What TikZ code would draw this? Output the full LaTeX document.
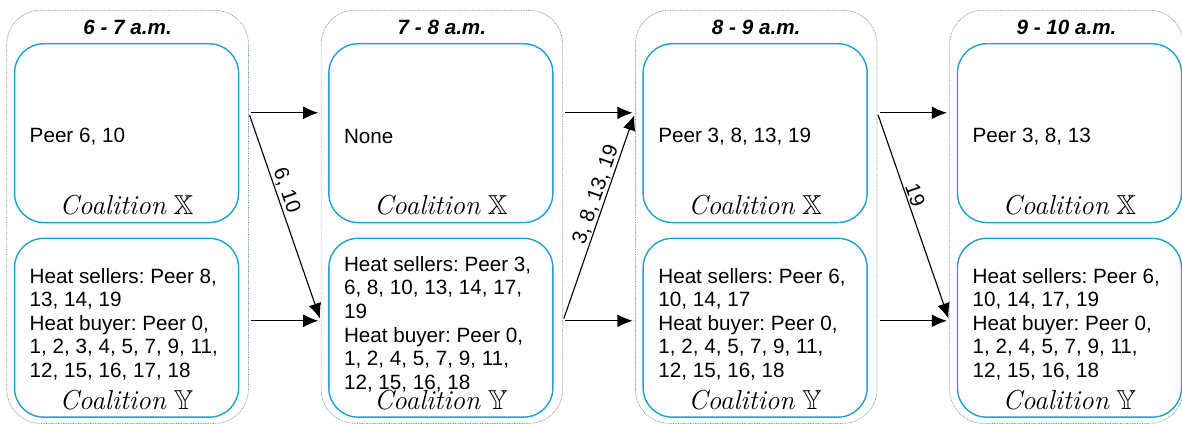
\documentclass[tikz,border=0pt]{standalone}
\usepackage{amssymb}
\usepackage[no-math]{fontspec}
\newfontfamily\arialfont{Liberation Sans}
\usetikzlibrary{positioning,arrows.meta}
\definecolor{boxblue}{RGB}{30,160,210}
\definecolor{framegray}{RGB}{120,150,170}
\frenchspacing

% coalition caption under each box
\newcommand{\coalname}[1]{\fontsize{19.5}{21}\selectfont{\rmfamily\itshape Coalition}~$\mathbb{#1}$}

\begin{document}
\begin{tikzpicture}[
  node distance=18mm, font=\arialfont\fontsize{14.7}{16.8}\selectfont,
  >={Latex[length=3.8mm,width=3.2mm]},
  period/.style={draw=framegray, line width=0.5pt, dash pattern=on 0.6pt off 0.6pt, rounded corners=8.5mm, minimum width=60.4mm, minimum height=103.3mm, inner sep=0pt},
  coal/.style={draw=boxblue, line width=1pt, rounded corners=7.3mm, minimum width=56mm, minimum height=44.7mm, anchor=north west, inner sep=0pt},
  hour/.style={font=\arialfont\fontsize{14.7}{16.8}\selectfont\bfseries\itshape},
  members/.style={anchor=west, align=left, inner sep=0pt},
  cname/.style={anchor=base, inner sep=0pt},
  flow/.style={->, line width=0.8pt, shorten <=0.6mm, shorten >=0.6mm},
  lbl/.style={sloped, above, inner sep=0.8pt},
]
\useasboundingbox (0,0) rectangle (295.5mm,-106mm);

% one frame per hour
\node[period] (p1) at (31.9mm,-54.2mm) {};
\node[period, right=of p1] (p2) {};
\node[period, right=of p2] (p3) {};
\node[period, right=of p3, minimum width=58.4mm] (p4) {};

\node[hour] (t1) at ([yshift=-4.3mm]p1.north) {6 - 7 a.m.};
\node[hour] (t2) at ([yshift=-4.3mm]p2.north) {7 - 8 a.m.};
\node[hour] (t3) at ([yshift=-4.3mm]p3.north) {8 - 9 a.m.};
\node[hour] (t4) at ([yshift=-4.3mm]p4.north) {9 - 10 a.m.};

% 6 - 7
\node[coal] (x1) at ([xshift=1.85mm,yshift=-8.3mm]p1.north west) {};
\node[coal, below=3.6mm of x1] (y1) {};
\node[members] (x1m) at ([xshift=3.9mm,yshift=-0.8mm]x1.west) {Peer 6, 10};
\node[members] (y1m) at ([xshift=3.9mm,yshift=0.9mm]y1.west) {Heat sellers: Peer 8,\\13, 14, 19\\Heat buyer: Peer 0,\\1, 2, 3, 4, 5, 7, 9, 11,\\12, 15, 16, 17, 18};
\node[cname] (x1c) at ([yshift=2.25mm]x1.south) {\coalname{X}};
\node[cname] (y1c) at ([yshift=2.1mm]y1.south) {\coalname{Y}};

% 7 - 8
\node[coal] (x2) at ([xshift=1.85mm,yshift=-8.3mm]p2.north west) {};
\node[coal, below=3.6mm of x2] (y2) {};
\node[members] (x2m) at ([xshift=3.9mm,yshift=-0.8mm]x2.west) {None};
\node[members] (y2m) at ([xshift=3.9mm,yshift=0.9mm]y2.west) {Heat sellers: Peer 3,\\6, 8, 10, 13, 14, 17,\\19\\Heat buyer: Peer 0,\\1, 2, 4, 5, 7, 9, 11,\\12, 15, 16, 18};
\node[cname] (x2c) at ([yshift=2.25mm]x2.south) {\coalname{X}};
\node[cname] (y2c) at ([yshift=2.1mm]y2.south) {\coalname{Y}};

% 8 - 9
\node[coal] (x3) at ([xshift=1.85mm,yshift=-8.3mm]p3.north west) {};
\node[coal, below=3.6mm of x3] (y3) {};
\node[members] (x3m) at ([xshift=3.9mm,yshift=-0.8mm]x3.west) {Peer 3, 8, 13, 19};
\node[members] (y3m) at ([xshift=3.9mm,yshift=0.9mm]y3.west) {Heat sellers: Peer 6,\\10, 14, 17\\Heat buyer: Peer 0,\\1, 2, 4, 5, 7, 9, 11,\\12, 15, 16, 18};
\node[cname] (x3c) at ([yshift=2.25mm]x3.south) {\coalname{X}};
\node[cname] (y3c) at ([yshift=2.1mm]y3.south) {\coalname{Y}};

% 9 - 10
\node[coal] (x4) at ([xshift=1.85mm,yshift=-8.3mm]p4.north west) {};
\node[coal, below=3.6mm of x4] (y4) {};
\node[members] (x4m) at ([xshift=3.9mm,yshift=-0.8mm]x4.west) {Peer 3, 8, 13};
\node[members] (y4m) at ([xshift=3.9mm,yshift=0.9mm]y4.west) {Heat sellers: Peer 6,\\10, 14, 17, 19\\Heat buyer: Peer 0,\\1, 2, 4, 5, 7, 9, 11,\\12, 15, 16, 18};
\node[cname] (x4c) at ([yshift=2.25mm]x4.south) {\coalname{X}};
\node[cname] (y4c) at ([yshift=2.1mm]y4.south) {\coalname{Y}};

% transitions between hours
\draw[flow] ([yshift=26mm]p1.east) -- ([yshift=26mm]p2.west);
\draw[flow] ([yshift=-26mm]p1.east) -- ([yshift=-26mm]p2.west);
\draw[flow] ([yshift=26mm]p1.east) -- node[lbl, pos=0.39] {6, 10} ([yshift=-26mm]p2.west);

\draw[flow] ([yshift=26mm]p2.east) -- ([yshift=26mm]p3.west);
\draw[flow] ([yshift=-26mm]p2.east) -- ([yshift=-26mm]p3.west);
\draw[flow] ([yshift=-26mm]p2.east) -- node[lbl, pos=0.59] {3, 8, 13, 19} ([yshift=26mm]p3.west);

\draw[flow] ([yshift=26mm]p3.east) -- ([yshift=26mm]p4.west);
\draw[flow] ([yshift=-26mm]p3.east) -- ([yshift=-26mm]p4.west);
\draw[flow] ([yshift=26mm]p3.east) -- node[lbl, pos=0.41] {19} ([yshift=-26mm]p4.west);
\end{tikzpicture}
\end{document}
